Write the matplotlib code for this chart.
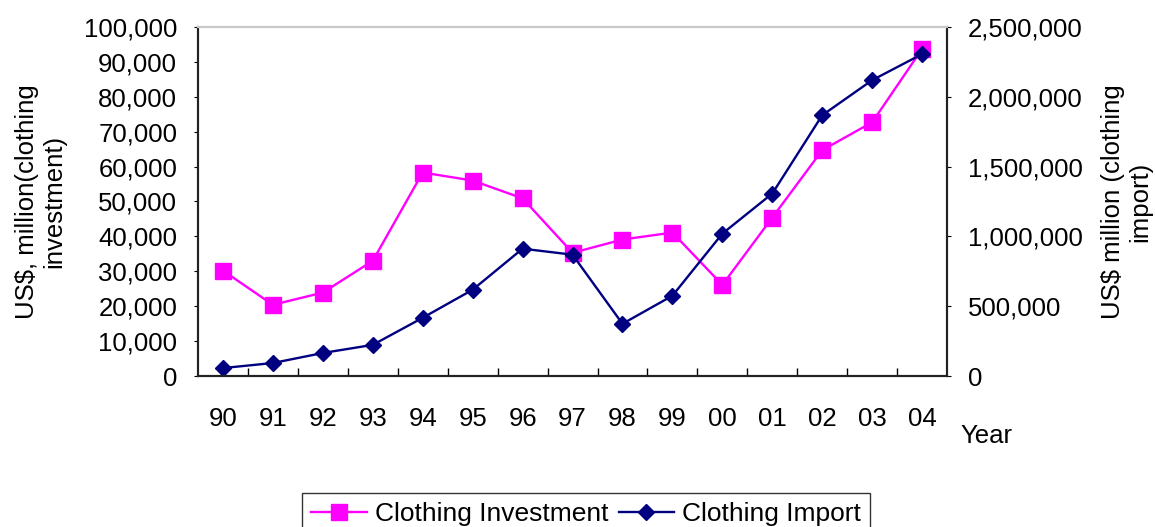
import matplotlib.pyplot as plt
from matplotlib.ticker import FuncFormatter, FixedLocator

plt.rcParams["font.family"] = ["Liberation Sans", "DejaVu Sans"]

years = ["90", "91", "92", "93", "94", "95", "96", "97", "98", "99", "00", "01", "02", "03", "04"]
investment = [30200, 20400, 23900, 33000, 58300, 56000, 50900, 35300, 39100, 41100, 26100, 45400, 64700, 72700, 93700]
imports = [57000, 93000, 165000, 223000, 417000, 618000, 912000, 869000, 374000, 575000, 1020000, 1307000, 1868000, 2119000, 2306000]

FS = 18.5
fmt = FuncFormatter(lambda v, p: f"{int(v):,}")
x = list(range(len(years)))

fig = plt.figure(figsize=(11.55, 5.27), dpi=100)
ax = fig.add_axes([0.1714, 0.2865, 0.6486, 0.6623])
ax2 = ax.twinx()

l1, = ax.plot(x, investment, color="#ff00ff", marker="s", markersize=11,
              linewidth=1.7, label="Clothing Investment")
l2, = ax2.plot(x, imports, color="#000080", marker="D", markersize=8.5,
               linewidth=1.7, label="Clothing Import")

ax.set_xlim(-0.5, len(years) - 0.5)
ax.set_ylim(0, 100000)
ax2.set_ylim(0, 2500000)
ax.set_yticks(range(0, 100001, 10000))
ax2.set_yticks(range(0, 2500001, 500000))
ax.yaxis.set_major_formatter(fmt)
ax2.yaxis.set_major_formatter(fmt)

# category labels centred, tick marks between categories
ax.set_xticks(x)
ax.set_xticklabels(years)
ax.tick_params(axis="x", which="major", length=0, pad=22, labelsize=FS)
ax.xaxis.set_minor_locator(FixedLocator([i + 0.5 for i in range(len(years) - 1)]))
ax.tick_params(axis="x", which="minor", direction="in", length=6, width=1)
ax.tick_params(axis="y", direction="out", length=3, pad=12, labelsize=FS)
ax2.tick_params(axis="y", direction="out", length=3, pad=12, labelsize=FS)

for a in (ax, ax2):
    a.spines["top"].set_color("#c8c8c8")
    a.spines["top"].set_linewidth(1.5)
    for s in ("left", "right", "bottom"):
        a.spines[s].set_color("#222222")
        a.spines[s].set_linewidth(1.5)

ax.set_ylabel("US$, million(clothing\ninvestment)", fontsize=FS,
              linespacing=1.15, multialignment="center")
ax2.set_ylabel("US$ million (clothing\nimport)", fontsize=FS,
               linespacing=1.15, multialignment="center", rotation=90)
ax.yaxis.set_label_coords(-0.21, 0.5)
ax2.yaxis.set_label_coords(1.240, 0.5)
ax.yaxis.label.set_va("center")
ax2.yaxis.label.set_va("center")

fig.text(986 / 1155, 1 - 443 / 527, "Year", fontsize=FS, ha="center", va="baseline")

leg = fig.legend(handles=[l1, l2], loc="upper center", ncol=2,
                 bbox_to_anchor=(586 / 1155, 34 / 527), fontsize=19,
                 frameon=True, fancybox=False, edgecolor="black",
                 handlelength=2.1, columnspacing=0.4, handletextpad=0.3,
                 borderpad=0.35, borderaxespad=0, markerscale=1.0)
leg.get_frame().set_linewidth(1.0)

fig.savefig("out.png", dpi=100)
